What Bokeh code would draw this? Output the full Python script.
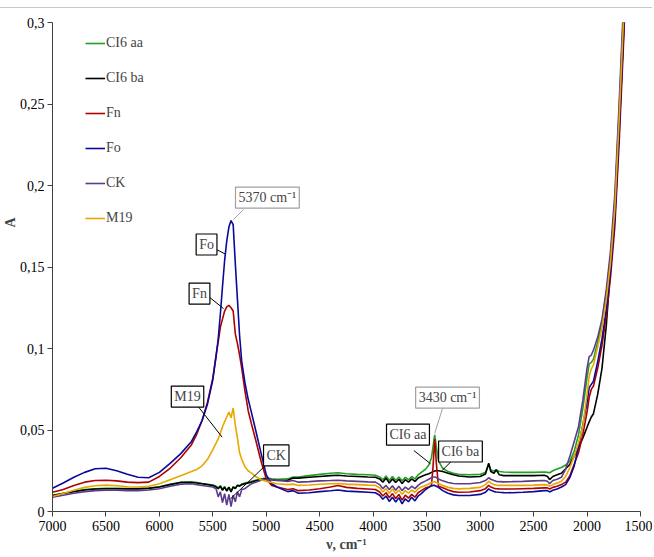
from bokeh.plotting import figure
from bokeh.models import Range1d, FixedTicker, CustomJSTickFormatter, Label, Legend, LegendItem, Title
from bokeh.embed import file_html
from bokeh.resources import INLINE

# ---------------- data ----------------
wavenumber = [7000, 6900, 6800, 6700, 6600, 6500, 6400, 6300, 6200, 6100,
              6000, 5900, 5800, 5700, 5650, 5600, 5550, 5500, 5470, 5450,
              5430, 5410, 5390, 5370, 5350, 5330, 5310, 5290, 5270, 5250,
              5230, 5200, 5170, 5140, 5100, 5050, 5000, 4950, 4900, 4800,
              4750, 4700, 4600, 4500, 4400, 4330, 4250, 4150, 4050, 3980,
              3940, 3910, 3880, 3850, 3820, 3790, 3760, 3730, 3700, 3670,
              3640, 3610, 3580, 3550, 3510, 3480, 3455, 3440, 3425, 3410,
              3390, 3350, 3300, 3250, 3200, 3100, 3000, 2950, 2920, 2900,
              2870, 2850, 2820, 2780, 2700, 2600, 2500, 2400, 2370, 2350,
              2320, 2280, 2240, 2200, 2160, 2120, 2080, 2040, 2000, 1980,
              1960, 1940, 1900, 1860, 1820, 1780, 1740, 1700, 1660, 1620]

ci6_aa = [0.0100, 0.0112, 0.0124, 0.0134, 0.0140, 0.0142, 0.0142, 0.0141, 0.0141, 0.0144,
          0.0152, 0.0167, 0.0180, 0.0182, 0.0178, 0.0172, 0.0167, 0.0162, 0.0155, 0.0145,
          0.0158, 0.0135, 0.0152, 0.0130, 0.0150, 0.0125, 0.0152, 0.0145, 0.0162, 0.0158,
          0.0168, 0.0174, 0.0180, 0.0185, 0.0192, 0.0200, 0.0205, 0.0200, 0.0198, 0.0200,
          0.0212, 0.0212, 0.0220, 0.0228, 0.0235, 0.0238, 0.0232, 0.0228, 0.0225, 0.0222,
          0.0212, 0.0195, 0.0218, 0.0190, 0.0215, 0.0192, 0.0212, 0.0188, 0.0210, 0.0195,
          0.0215, 0.0200, 0.0225, 0.0240, 0.0260, 0.0285, 0.0330, 0.0400, 0.0470, 0.0400,
          0.0310, 0.0265, 0.0245, 0.0235, 0.0228, 0.0225, 0.0228, 0.0240, 0.0290, 0.0255,
          0.0248, 0.0256, 0.0245, 0.0242, 0.0240, 0.0240, 0.0240, 0.0242, 0.0240, 0.0238,
          0.0250, 0.0260, 0.0270, 0.0285, 0.0310, 0.0370, 0.0470, 0.0630, 0.0820, 0.0905,
          0.0915, 0.0935, 0.1040, 0.1160, 0.1340, 0.1570, 0.1900, 0.2450, 0.3050, 0.3700]

ci6_ba = [0.0098, 0.0110, 0.0122, 0.0132, 0.0138, 0.0140, 0.0140, 0.0139, 0.0139, 0.0142,
          0.0150, 0.0165, 0.0178, 0.0178, 0.0175, 0.0170, 0.0165, 0.0160, 0.0150, 0.0140,
          0.0155, 0.0130, 0.0150, 0.0125, 0.0148, 0.0120, 0.0150, 0.0140, 0.0160, 0.0155,
          0.0165, 0.0170, 0.0175, 0.0180, 0.0188, 0.0195, 0.0200, 0.0195, 0.0190, 0.0192,
          0.0205, 0.0205, 0.0210, 0.0215, 0.0220, 0.0222, 0.0218, 0.0215, 0.0212, 0.0210,
          0.0200, 0.0180, 0.0205, 0.0175, 0.0200, 0.0178, 0.0198, 0.0172, 0.0195, 0.0180,
          0.0200, 0.0185, 0.0205, 0.0215, 0.0225, 0.0232, 0.0240, 0.0245, 0.0248, 0.0250,
          0.0250, 0.0245, 0.0235, 0.0225, 0.0218, 0.0212, 0.0215, 0.0230, 0.0296, 0.0245,
          0.0235, 0.0255, 0.0225, 0.0220, 0.0220, 0.0220, 0.0220, 0.0222, 0.0215, 0.0196,
          0.0215, 0.0225, 0.0235, 0.0262, 0.0290, 0.0340, 0.0390, 0.0450, 0.0517, 0.0550,
          0.0580, 0.0600, 0.0720, 0.0880, 0.1140, 0.1500, 0.1850, 0.2350, 0.2900, 0.3600]

fn = [0.0118, 0.0135, 0.0160, 0.0180, 0.0190, 0.0192, 0.0188, 0.0180, 0.0177, 0.0180,
      0.0215, 0.0265, 0.0330, 0.0410, 0.0475, 0.0560, 0.0670, 0.0820, 0.0960, 0.1040,
      0.1130, 0.1180, 0.1230, 0.1255, 0.1265, 0.1250, 0.1230, 0.1090, 0.1030, 0.0960,
      0.0880, 0.0740, 0.0620, 0.0540, 0.0440, 0.0310, 0.0200, 0.0160, 0.0150, 0.0135,
      0.0140, 0.0128, 0.0132, 0.0140, 0.0150, 0.0160, 0.0148, 0.0142, 0.0138, 0.0135,
      0.0120, 0.0095, 0.0115, 0.0085, 0.0110, 0.0080, 0.0105, 0.0070, 0.0100, 0.0082,
      0.0105, 0.0088, 0.0115, 0.0128, 0.0145, 0.0150, 0.0160, 0.0280, 0.0445, 0.0300,
      0.0155, 0.0145, 0.0132, 0.0122, 0.0118, 0.0120, 0.0128, 0.0140, 0.0160, 0.0150,
      0.0142, 0.0140, 0.0139, 0.0138, 0.0138, 0.0140, 0.0142, 0.0145, 0.0145, 0.0138,
      0.0148, 0.0155, 0.0165, 0.0180, 0.0220, 0.0290, 0.0360, 0.0470, 0.0610, 0.0700,
      0.0750, 0.0770, 0.0880, 0.1020, 0.1200, 0.1440, 0.1750, 0.2260, 0.2850, 0.3500]

fo = [0.0143, 0.0175, 0.0210, 0.0240, 0.0262, 0.0265, 0.0250, 0.0228, 0.0210, 0.0207,
      0.0240, 0.0295, 0.0355, 0.0430, 0.0490, 0.0560, 0.0660, 0.0810, 0.0950, 0.1060,
      0.1210, 0.1380, 0.1540, 0.1660, 0.1745, 0.1785, 0.1760, 0.1520, 0.1300, 0.1080,
      0.0920, 0.0790, 0.0690, 0.0610, 0.0500, 0.0360, 0.0225, 0.0170, 0.0150, 0.0122,
      0.0128, 0.0112, 0.0115, 0.0122, 0.0127, 0.0132, 0.0125, 0.0122, 0.0118, 0.0115,
      0.0100, 0.0075, 0.0095, 0.0062, 0.0088, 0.0058, 0.0085, 0.0047, 0.0078, 0.0060,
      0.0088, 0.0065, 0.0095, 0.0110, 0.0135, 0.0148, 0.0157, 0.0160, 0.0160, 0.0155,
      0.0148, 0.0128, 0.0112, 0.0102, 0.0098, 0.0098, 0.0105, 0.0118, 0.0139, 0.0130,
      0.0122, 0.0120, 0.0118, 0.0116, 0.0115, 0.0118, 0.0122, 0.0128, 0.0128, 0.0120,
      0.0130, 0.0138, 0.0150, 0.0165, 0.0210, 0.0280, 0.0400, 0.0530, 0.0670, 0.0760,
      0.0780, 0.0800, 0.0920, 0.1060, 0.1240, 0.1480, 0.1800, 0.2320, 0.2920, 0.3600]

ck = [0.0088, 0.0100, 0.0112, 0.0122, 0.0128, 0.0130, 0.0130, 0.0128, 0.0128, 0.0132,
      0.0140, 0.0155, 0.0168, 0.0170, 0.0165, 0.0160, 0.0155, 0.0150, 0.0140, 0.0090,
      0.0120, 0.0055, 0.0110, 0.0040, 0.0105, 0.0030, 0.0100, 0.0060, 0.0120, 0.0090,
      0.0135, 0.0140, 0.0155, 0.0170, 0.0180, 0.0192, 0.0196, 0.0195, 0.0192, 0.0185,
      0.0190, 0.0180, 0.0183, 0.0188, 0.0190, 0.0192, 0.0188, 0.0185, 0.0182, 0.0180,
      0.0165, 0.0140, 0.0160, 0.0135, 0.0158, 0.0130, 0.0155, 0.0128, 0.0150, 0.0135,
      0.0155, 0.0140, 0.0160, 0.0175, 0.0188, 0.0198, 0.0208, 0.0212, 0.0212, 0.0208,
      0.0200, 0.0188, 0.0178, 0.0172, 0.0170, 0.0170, 0.0178, 0.0190, 0.0207, 0.0198,
      0.0190, 0.0185, 0.0183, 0.0182, 0.0183, 0.0185, 0.0188, 0.0190, 0.0185, 0.0170,
      0.0190, 0.0198, 0.0210, 0.0260, 0.0340, 0.0430, 0.0520, 0.0680, 0.0880, 0.0950,
      0.0960, 0.0990, 0.1070, 0.1180, 0.1360, 0.1600, 0.1950, 0.2500, 0.3100, 0.3800]

m19 = [0.0092, 0.0110, 0.0130, 0.0148, 0.0158, 0.0162, 0.0158, 0.0152, 0.0150, 0.0155,
       0.0170, 0.0195, 0.0220, 0.0245, 0.0258, 0.0280, 0.0320, 0.0380, 0.0420, 0.0445,
       0.0480, 0.0520, 0.0550, 0.0580, 0.0610, 0.0575, 0.0635, 0.0530, 0.0450, 0.0360,
       0.0320, 0.0275, 0.0250, 0.0235, 0.0215, 0.0195, 0.0185, 0.0178, 0.0170, 0.0165,
       0.0168, 0.0160, 0.0163, 0.0167, 0.0170, 0.0172, 0.0168, 0.0165, 0.0162, 0.0160,
       0.0145, 0.0120, 0.0140, 0.0112, 0.0138, 0.0110, 0.0132, 0.0105, 0.0128, 0.0112,
       0.0132, 0.0118, 0.0140, 0.0150, 0.0160, 0.0168, 0.0178, 0.0182, 0.0182, 0.0178,
       0.0172, 0.0160, 0.0148, 0.0142, 0.0139, 0.0142, 0.0148, 0.0165, 0.0186, 0.0175,
       0.0165, 0.0162, 0.0160, 0.0160, 0.0160, 0.0160, 0.0162, 0.0165, 0.0163, 0.0155,
       0.0165, 0.0175, 0.0185, 0.0215, 0.0270, 0.0340, 0.0420, 0.0520, 0.0720, 0.0830,
       0.0875, 0.0900, 0.1010, 0.1130, 0.1300, 0.1530, 0.1860, 0.2400, 0.3000, 0.3700]

series_names = ["CI6 aa", "CI6 ba", "Fn", "Fo", "CK", "M19"]
series_values = [ci6_aa, ci6_ba, fn, fo, ck, m19]
series_colors = ["#22a022", "#000000", "#b00000", "#0a0a9a", "#5a3c8c", "#e8a800"]

x_ticks = [7000, 6500, 6000, 5500, 5000, 4500, 4000, 3500, 3000, 2500, 2000, 1500]
y_ticks = [0, 0.05, 0.1, 0.15, 0.2, 0.25, 0.3]

# annotation boxes: text, x, y, border colour
ann_text = ["5370 cm\u207b\u00b9", "Fo", "Fn", "M19", "CK", "3430 cm\u207b\u00b9", "CI6 aa", "CI6 ba"]
ann_x = [4990, 5559, 5625, 5737, 4907, 3305, 3675, 3184]
ann_y = [0.1926, 0.1638, 0.1337, 0.0705, 0.0344, 0.0699, 0.0472, 0.0368]
ann_border = ["#a0a0a0", "black", "black", "black", "black", "#a0a0a0", "black", "black"]
# leader lines
lead_x0 = [5213, 5466, 5541, 5644, 5008, 3352, 3620, 3261]
lead_y0 = [0.1853, 0.1607, 0.1319, 0.0650, 0.0282, 0.0632, 0.0374, 0.0313]
lead_x1 = [5307, 5385, 5400, 5413, 5335, 3425, 3464, 3355]
lead_y1 = [0.1791, 0.1580, 0.1245, 0.0456, 0.0078, 0.0479, 0.0293, 0.0252]

SERIF = "Liberation Serif"

p = figure(width=652, height=548, x_range=Range1d(7000, 1500), y_range=Range1d(0, 0.3),
           output_backend="svg", toolbar_location=None,
           min_border_left=52, min_border_right=12, min_border_top=14, min_border_bottom=45)
p.styles = {"margin-top": "7px", "border-top": "1px solid #c8c8c8"}
p.outline_line_color = None
p.xgrid.visible = False
p.ygrid.visible = False
p.background_fill_color = "white"
p.border_fill_color = "white"

for ax in (p.xaxis[0], p.yaxis[0]):
    ax.axis_line_color = "#404040"
    ax.major_tick_line_color = "#404040"
    ax.minor_tick_line_color = None
    ax.major_tick_in = 0
    ax.major_tick_out = 5
    ax.major_label_text_font = SERIF
    ax.major_label_text_font_size = "14px"
    ax.major_label_text_color = "black"

p.xaxis[0].ticker = FixedTicker(ticks=x_ticks)
p.yaxis[0].ticker = FixedTicker(ticks=y_ticks)
p.yaxis[0].formatter = CustomJSTickFormatter(
    code="return tick === 0 ? '0' : tick.toFixed(2).replace(/0+$/, '').replace('.', ',');")
p.xaxis[0].major_label_standoff = 4
p.yaxis[0].major_label_standoff = 3
p.xaxis[0].axis_label = "\u03bd, cm\u207b\u00b9"
p.xaxis[0].axis_label_text_font = SERIF
p.xaxis[0].axis_label_text_font_size = "14px"
p.xaxis[0].axis_label_text_font_style = "bold"
p.xaxis[0].axis_label_standoff = 3

p.add_layout(Title(text="A", align="right", offset=195, standoff=-3,
                   text_font=SERIF, text_font_size="14px", text_font_style="bold"), "left")

items = []
for name, vals, col in zip(series_names, series_values, series_colors):
    r = p.line(wavenumber, vals, line_color=col, line_width=1.6)
    items.append(LegendItem(label=name, renderers=[r]))

legend = Legend(items=items, location=(33, 283), margin=0, padding=0,
                glyph_width=20, glyph_height=20, label_height=20, spacing=15,
                label_standoff=1, label_text_font=SERIF, label_text_font_size="14px",
                background_fill_alpha=0, border_line_color=None)
p.add_layout(legend)

p.segment(lead_x0, lead_y0, lead_x1, lead_y1,
          line_color=[("#a0a0a0" if c != "black" else "black") for c in ann_border], line_width=1)

for t, x, y, bc in zip(ann_text, ann_x, ann_y, ann_border):
    p.add_layout(Label(x=x, y=y, text=t, text_font=SERIF, text_font_size="14px",
                       text_align="center", text_baseline="middle",
                       border_line_color=bc, border_line_width=1.2,
                       background_fill_color="white", padding=3))

open("out.html", "w").write(file_html(p, INLINE))
